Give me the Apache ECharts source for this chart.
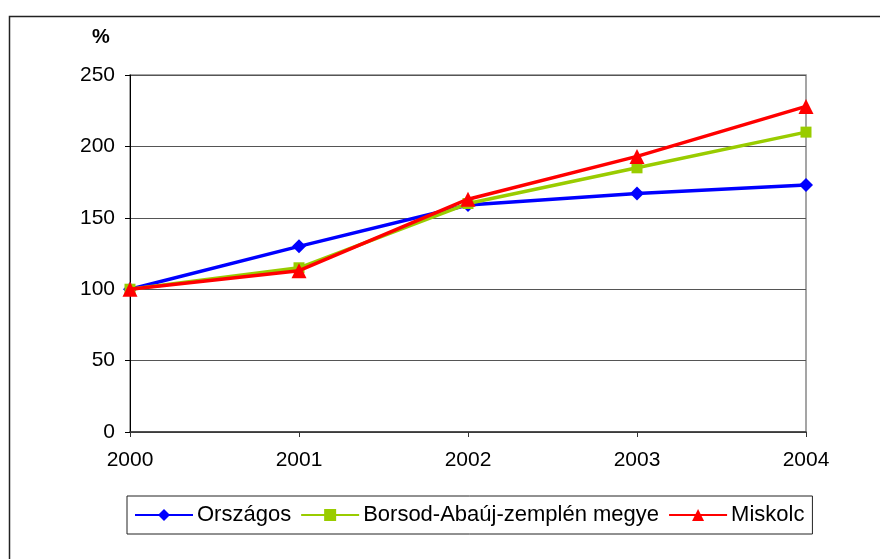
<!DOCTYPE html>
<html>
<head>
<meta charset="utf-8">
<script src="https://cdn.jsdelivr.net/npm/echarts@6/dist/echarts.min.js"></script>
<style>html,body{margin:0;padding:0;background:#fff}#c{width:880px;height:559px}</style>
</head>
<body>
<div id="c"></div>
<script>
const years = ['2000', '2001', '2002', '2003', '2004'];
const orszagos = [100, 130, 159, 167, 173];
const borsod = [100, 115, 160, 185, 210];
const miskolc = [100, 113, 163, 193, 228];
const seriesNames = ['Országos', 'Borsod-Abaúj-zemplén megye', 'Miskolc'];
const unitLabel = '%';

const chart = echarts.init(document.getElementById('c'));
const font = 'Liberation Sans, Arial, sans-serif';
chart.setOption({
  animation: false,
  backgroundColor: '#fff',
  textStyle: { fontFamily: font },
  graphic: [{
    type: 'rect', left: 7, top: 14, silent: true,
    shape: { width: 1000, height: 800 },
    style: { fill: 'none', stroke: '#222', lineWidth: 1.5 }
  }, {
    type: 'text', left: 92, top: 27, silent: true,
    style: { text: unitLabel, fontFamily: font, fontSize: 20, fontWeight: 'bold', fill: '#000' }
  }],
  grid: { left: 130, right: 74, top: 75, bottom: 127, show: true, borderColor: '#888', borderWidth: 1.5, backgroundColor: 'transparent' },
  legend: {
    left: 127, top: 496,
    data: seriesNames,
    borderColor: '#222', borderWidth: 1,
    padding: [8, 8, 8, 7],
    itemGap: 9, itemWidth: 58, itemHeight: 15,
    textStyle: { fontFamily: font, fontSize: 22, color: '#000', padding: [0, 0, 0, -1] }
  },
  xAxis: {
    type: 'category', data: years, boundaryGap: false,
    axisLine: { lineStyle: { color: '#333', width: 1.5 } },
    axisTick: { show: true, alignWithLabel: true, length: 5, lineStyle: { color: '#333' } },
    axisLabel: { fontFamily: font, fontSize: 21, color: '#000', margin: 18 },
    splitLine: { show: false }
  },
  yAxis: {
    type: 'value', min: 0, max: 250, interval: 50,
    axisLine: { show: true, lineStyle: { color: '#000', width: 1 } },
    axisTick: { show: true, length: 5, lineStyle: { color: '#000' } },
    axisLabel: { fontFamily: font, fontSize: 21, color: '#000', margin: 15 },
    splitLine: { show: true, lineStyle: { color: '#555', width: 1 } }
  },
  series: [
    { name: seriesNames[0], type: 'line', data: orszagos, color: '#0000FF', symbol: 'diamond', symbolSize: 14, lineStyle: { width: 3.5 }, z: 3 },
    { name: seriesNames[1], type: 'line', data: borsod, color: '#99CC00', symbol: 'rect', symbolSize: 11, lineStyle: { width: 3.5 }, z: 4 },
    { name: seriesNames[2], type: 'line', data: miskolc, color: '#FF0000', symbol: 'triangle', symbolSize: 15, lineStyle: { width: 3.5 }, z: 5 }
  ]
});
</script>
</body>
</html>
